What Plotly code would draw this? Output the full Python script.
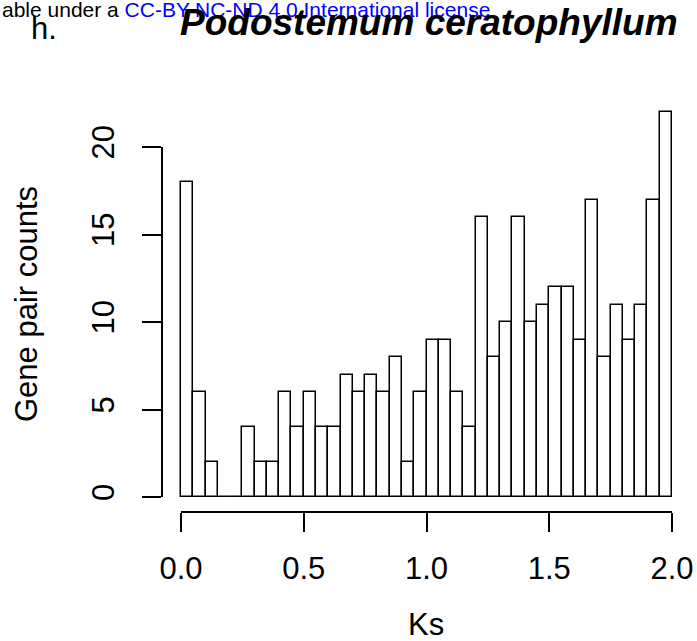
import numpy as np
import plotly.graph_objects as go

# ---- data ----
bin_width = 0.05
bin_starts = [round(i * bin_width, 2) for i in range(40)]
counts = [18, 6, 2, 0, 0, 4, 2, 2, 6, 4,
          6, 4, 4, 7, 6, 7, 6, 8, 2, 6,
          9, 9, 6, 4, 16, 8, 10, 16, 10, 11,
          12, 12, 9, 17, 8, 11, 9, 11, 17, 22]
x_ticks = [0.0, 0.5, 1.0, 1.5, 2.0]
x_ticktext = ["0.0", "0.5", "1.0", "1.5", "2.0"]
y_ticks = [0, 5, 10, 15, 20]

title_text = "<b><i>Podostemum ceratophyllum</i></b>"
panel_label = "h."
x_title = "Ks"
y_title = "Gene pair counts"

W, H = 697, 641
FONT = "Liberation Sans, Arial, Helvetica, sans-serif"

def px_x(p):
    return p / W

def px_y(p):
    return 1 - p / H

# layout geometry (pixels)
x_left, x_right = 181, 672        # x = 0 .. 2
y_zero, y_twenty = 497, 147       # y = 0 .. 20
top_px = 100
units_per_px_y = 20 / (y_zero - y_twenty)
y_top_val = (y_zero - top_px) * units_per_px_y
units_per_px_x = 2 / (x_right - x_left)
pad_px = 15
x_lo_val = -pad_px * units_per_px_x
x_hi_val = 2 + pad_px * units_per_px_x

bin_centers = [s + bin_width / 2 for s in bin_starts]

fig = go.Figure()
# baseline across histogram range (R draws zero-height bins as a line)
fig.add_trace(go.Scatter(
    x=[bin_starts[0], bin_starts[-1] + bin_width], y=[0, 0],
    mode="lines", line=dict(color="black", width=1.5),
    showlegend=False, hoverinfo="skip"))
fig.add_trace(go.Bar(
    x=bin_centers, y=counts, width=bin_width,
    marker=dict(color="white", line=dict(color="black", width=1.5)),
    showlegend=False))
# invisible trace for the detached R-style axes
fig.add_trace(go.Scatter(x=[None], y=[None], xaxis="x2", yaxis="y2",
                         showlegend=False, hoverinfo="skip"))

fig.update_layout(
    width=W, height=H,
    margin=dict(l=0, r=0, t=0, b=0, pad=0, autoexpand=False),
    paper_bgcolor="white", plot_bgcolor="rgba(0,0,0,0)",
    font=dict(family=FONT, color="black", size=31),
    bargap=0,
    xaxis=dict(domain=[px_x(x_left - pad_px), px_x(x_right + pad_px)],
               range=[x_lo_val, x_hi_val],
               showline=False, showgrid=False, zeroline=False,
               showticklabels=False, ticks="", automargin=False),
    yaxis=dict(domain=[px_y(y_zero), px_y(top_px)], range=[0, y_top_val],
               showline=False, showgrid=False, zeroline=False,
               showticklabels=False, ticks="", automargin=False),
    xaxis2=dict(domain=[px_x(x_left), px_x(x_right)], range=[0, 2],
                anchor="free", position=px_y(512), automargin=False,
                showline=True, linecolor="black", linewidth=1.5,
                ticks="outside", ticklen=19, tickwidth=1.5, tickcolor="black",
                tickvals=x_ticks, ticktext=x_ticktext,
                showgrid=False, zeroline=False,
                tickfont=dict(size=31, family=FONT, color="black"),
                ticklabelstandoff=10),
    yaxis2=dict(domain=[px_y(y_zero), px_y(y_twenty)], range=[0, 20],
                anchor="free", position=px_x(161.5), automargin=False,
                showline=True, linecolor="black", linewidth=1.5,
                ticks="outside", ticklen=19, tickwidth=1.5, tickcolor="black",
                tickvals=y_ticks, tickangle=-90,
                showgrid=False, zeroline=False,
                tickfont=dict(size=31, family=FONT, color="black"),
                ticklabelstandoff=15),
    annotations=[
        dict(text="able under a <span style='color:#0000ff'>CC-BY-NC-ND 4.0 International license</span>",
             x=0, y=px_y(10), xref="paper", yref="paper",
             xanchor="left", yanchor="middle", showarrow=False,
             font=dict(size=21, family=FONT, color="black")),
        dict(text=panel_label, x=px_x(43.5), y=px_y(28), xref="paper", yref="paper",
             xanchor="center", yanchor="middle", showarrow=False,
             font=dict(size=31, family=FONT, color="black")),
        dict(text=title_text, x=px_x(428.5), y=px_y(22), xref="paper", yref="paper",
             xanchor="center", yanchor="middle", showarrow=False,
             font=dict(size=37, family=FONT, color="black")),
        dict(text=x_title, x=px_x(426), y=px_y(624), xref="paper", yref="paper",
             xanchor="center", yanchor="middle", showarrow=False,
             font=dict(size=31, family=FONT, color="black")),
        dict(text=y_title, x=px_x(26), y=px_y(304), xref="paper", yref="paper",
             xanchor="center", yanchor="middle", textangle=-90, showarrow=False,
             font=dict(size=31, family=FONT, color="black")),
    ],
)

fig.write_html("out.html")
